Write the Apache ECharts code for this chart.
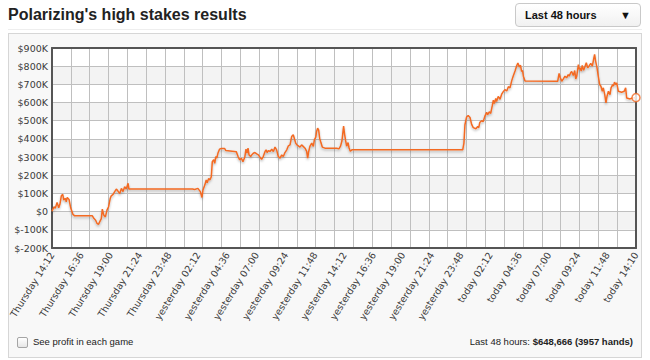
<!DOCTYPE html>
<html><head><meta charset="utf-8">
<script src="https://cdn.jsdelivr.net/npm/echarts@6/dist/echarts.min.js"></script>
<style>
html,body{margin:0;padding:0;background:#fff;width:650px;height:360px;overflow:hidden;font-family:"Liberation Sans",Arial,sans-serif;}
#panel{position:absolute;left:8px;top:33px;width:634px;height:325px;box-sizing:border-box;border:1px solid #d6d6d6;background:#f8f8f8;}
#sep{position:absolute;left:8px;top:29px;width:634px;height:1px;background:#eeeeee;}
#title{position:absolute;left:8px;top:5px;font-weight:bold;font-size:16px;line-height:20px;color:#222;}
#drop{position:absolute;left:515px;top:3px;width:126px;height:24px;box-sizing:border-box;border:1px solid #c9c9c9;border-radius:4px;background:linear-gradient(#ffffff,#f1f1f1);font-weight:bold;font-size:11px;color:#111;}
#drop .t{position:absolute;left:9px;top:5px;line-height:13px;}
#drop .a{position:absolute;right:9px;top:5px;line-height:13px;font-size:11px;}
#chart{position:absolute;left:0;top:0;width:650px;height:360px;z-index:1;}
#cb{position:absolute;left:17px;top:337px;width:11px;height:11px;box-sizing:border-box;border:1px solid #a5a5a5;border-radius:2px;background:linear-gradient(#ffffff,#e6e6e6);z-index:2;}
#cbl{position:absolute;left:33px;top:336px;font-size:9.5px;line-height:12px;color:#222;z-index:2;}
#sum{position:absolute;right:17px;top:336px;font-size:9.5px;line-height:12px;color:#222;z-index:2;}
</style></head>
<body>
<div id="panel"></div>
<div id="sep"></div>
<div id="title">Polarizing's high stakes results</div>
<div id="drop"><span class="t">Last 48 hours</span><span class="a">▼</span></div>
<div id="chart"></div>
<div id="cb"></div><div id="cbl">See profit in each game</div>
<div id="sum">Last 48 hours: <b>$648,666 (3957 hands)</b></div>
<script>
// minutes since Thursday 14:12
const timeMinutes = [
0,10,16,25,33,39,46,53,58,66,70,75,84,92,103,112,199,207,215,222,229,235,243,248,255,263,271,279,287,292,301,309,317,325,334,342,350,358,366,375,379,
693,703,719,731,739,744,753,760,765,772,778,785,790,797,802,807,812,818,826,834,851,857,908,917,925,933,941,950,956,961,966,971,979,
984,992,1000,1009,1017,1025,1033,1041,1050,1055,1060,1066,1074,1083,1091,1099,1107,1115,1124,1132,1140,1148,1157,1165,1173,1181,1189,1194,1201,1207,1214,1222,1230,1238,1247,1255,1260,1265,1271,1280,1288,1293,1300,1304,1309,1314,1319,1326,1332,1345,
1403,1414,1422,1429,1437,1442,1447,1452,1459,1464,1470,1478,
2024,2030,2035,2043,2051,2060,2068,2076,2089,2098,2103,2108,2117,2125,2133,2142,2147,2155,2162,2170,2175,2180,2187,2191,2199,2208,2216,2224,2232,2241,2249,2257,2266,2273,2282,2290,2296,2303,2309,2314,2319,2323,2331,
2492,2499,2505,2512,2520,2528,2536,2544,2549,2556,2561,2569,2576,2581,2586,2594,2599,2603,2608,2613,2620,2627,2633,2640,2646,2655,2663,2669,2674,2679,2686,2692,2699,2705,2712,2717,2724,2730,2735,2742,2750,2755,2763,2767,2772,2779,2783,2791,2807,2820,2827,2832,2849,2860,2878
];
// cumulative profit, thousands of dollars
const profitK = [
2,27,18,51,21,40,87,95,64,73,54,78,67,21,-15,-23,-23,-38,-47,-65,-70,-56,-38,14,-19,-29,8,27,73,87,95,110,124,113,100,128,110,137,124,156,124,
124,122,128,110,78,119,146,174,159,183,174,192,275,285,266,303,294,322,344,347,347,336,330,303,285,294,275,299,344,322,349,312,303,
312,321,325,318,312,299,288,303,331,340,325,336,331,343,331,355,340,303,294,312,303,325,340,362,367,413,423,404,377,367,362,355,367,359,349,331,294,331,359,377,359,395,410,441,459,450,404,377,355,349,
349,345,360,390,470,425,390,360,380,350,332,340,
340,377,478,520,529,518,480,462,456,468,462,490,500,495,524,547,533,549,540,584,613,595,622,605,634,618,646,660,671,664,687,681,722,746,773,802,817,795,805,772,775,745,718,
717,760,736,717,730,745,736,754,745,764,771,749,776,730,745,809,782,791,773,804,778,800,819,791,800,815,800,837,865,828,791,745,699,690,662,681,644,598,634,662,644,681,699,690,712,699,708,662,657,662,681,625,620,625,627
];
const tickMinutes = [0,144,288,432,576,720,864,1008,1152,1296,1440,1584,1728,1872,2016,2160,2304,2448,2592,2736,2878];
const tickLabels = ["Thursday 14:12","Thursday 16:36","Thursday 19:00","Thursday 21:24","Thursday 23:48",
"yesterday 02:12","yesterday 04:36","yesterday 07:00","yesterday 09:24","yesterday 11:48",
"yesterday 14:12","yesterday 16:36","yesterday 19:00","yesterday 21:24","yesterday 23:48",
"today 02:12","today 04:36","today 07:00","today 09:24","today 11:48","today 14:10"];
const yMin = -200000, yMax = 900000, yStep = 100000;
const gridColumns = 31;

const seriesData = timeMinutes.map((t, i) => [t, profitK[i] * 1000]);
const lastPoint = seriesData[seriesData.length - 1];
const orange = '#f36a24';
const axisDark = '#555555';
const gridGray = '#bfbfbf';

const chart = echarts.init(document.getElementById('chart'), null, {renderer: 'svg', width: 650, height: 360});
chart.setOption({
  animation: false,
  backgroundColor: 'transparent',
  grid: {left: 52, right: 14, top: 48, bottom: 112, show: true, backgroundColor: '#ffffff', borderWidth: 0, outerBoundsMode: 'none', containLabel: false},
  xAxis: [{
    type: 'value', min: tickMinutes[0], max: tickMinutes[tickMinutes.length - 1], interval: 144,
    axisLine: {show: true, onZero: false, lineStyle: {color: axisDark, width: 2}},
    axisTick: {show: false}, splitLine: {show: false},
    axisLabel: {
      rotate: 58, margin: 5, fontFamily: 'DejaVu Sans', fontSize: 9.5, color: '#3a3a3a',
      showMinLabel: true, showMaxLabel: true,
      formatter: function (v) {
        let best = 0;
        for (let i = 0; i < tickMinutes.length; i++) if (Math.abs(tickMinutes[i] - v) < Math.abs(tickMinutes[best] - v)) best = i;
        return tickLabels[best];
      }
    }
  }, {
    type: 'value', min: 0, max: gridColumns, interval: 1, position: 'top',
    axisLine: {show: true, onZero: false, lineStyle: {color: axisDark, width: 2}},
    axisTick: {show: false}, axisLabel: {show: false},
    splitLine: {show: true, lineStyle: {color: gridGray, width: 1}}
  }],
  yAxis: [{
    type: 'value', min: yMin, max: yMax, interval: yStep,
    axisLine: {show: true, onZero: false, lineStyle: {color: axisDark, width: 2}},
    axisTick: {show: false},
    axisLabel: {margin: 4, fontFamily: 'DejaVu Sans', fontSize: 9.5, color: '#3a3a3a',
      formatter: v => v === 0 ? '$0' : '$' + (v / 1000) + 'K'},
    splitLine: {show: true, lineStyle: {color: gridGray, width: 1}},
    splitArea: {show: true, areaStyle: {color: ['#ffffff', '#f3f3f3']}}
  }, {
    type: 'value', min: yMin, max: yMax, interval: yStep, position: 'right',
    axisLine: {show: true, onZero: false, lineStyle: {color: axisDark, width: 2}},
    axisTick: {show: false}, axisLabel: {show: false}, splitLine: {show: false}
  }],
  series: [{
    type: 'line', xAxisIndex: 0, yAxisIndex: 0, data: seriesData,
    showSymbol: false, symbol: 'none', z: 3,
    lineStyle: {color: orange, width: 1.5, shadowColor: 'rgba(0,0,0,0.28)', shadowBlur: 2, shadowOffsetY: 1.5}
  }, {
    type: 'scatter', xAxisIndex: 0, yAxisIndex: 0, data: [lastPoint], z: 4,
    symbol: 'circle', symbolSize: 8,
    itemStyle: {color: '#ffffff', borderColor: orange, borderWidth: 1.5}
  }]
});
</script>
</body></html>
